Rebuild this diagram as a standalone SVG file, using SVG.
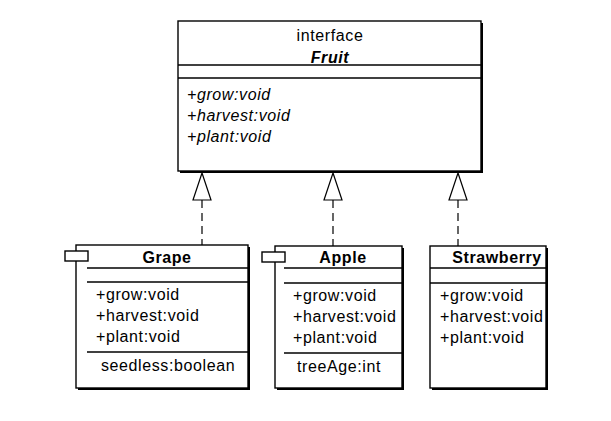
<svg xmlns="http://www.w3.org/2000/svg" width="611" height="421" viewBox="0 0 611 421">
<style>
  text { font-family: "Liberation Sans", Arial, sans-serif; font-size: 16px; letter-spacing: 0.6px; fill: #000; }
  .it { font-style: italic; }
  .b { font-weight: bold; }
  .mid { text-anchor: middle; }
  .box { fill: #fff; stroke: #000; stroke-width: 1.4; }
  .shadow { fill: #000; }
  .sep { stroke: #000; stroke-width: 1.3; }
  .tab { fill: #fff; stroke: #000; stroke-width: 1.4; }
  .dash { stroke: #000; stroke-width: 1.2; stroke-dasharray: 8 5; fill: none; }
  .tri { fill: #fff; stroke: #000; stroke-width: 1.2; }
</style>
<rect width="611" height="421" fill="#fff"/>

<g id="connectors">
  <line class="dash" x1="202" y1="200" x2="202" y2="245"/>
  <polygon class="tri" points="202,173 193,200 211,200"/>
  <line class="dash" x1="333" y1="200" x2="333" y2="246"/>
  <polygon class="tri" points="333,173 324,200 342,200"/>
  <line class="dash" x1="458" y1="200" x2="458" y2="246"/>
  <polygon class="tri" points="458,173 449,200 467,200"/>
</g>

<g id="Fruit">
  <rect class="shadow" x="180" y="23" width="303" height="150"/>
  <rect class="box" x="178" y="21" width="303" height="150"/>
  <text class="mid" x="330" y="41">interface</text>
  <text class="mid it b" x="330" y="62.5">Fruit</text>
  <line class="sep" x1="178" y1="65" x2="481" y2="65"/>
  <line class="sep" x1="178" y1="78" x2="481" y2="78"/>
  <text class="it" x="187" y="100">+grow:void</text>
  <text class="it" x="187" y="121">+harvest:void</text>
  <text class="it" x="187" y="142">+plant:void</text>
</g>

<g id="Grape">
  <rect class="shadow" x="78" y="247" width="172" height="143"/>
  <rect class="box" x="76" y="245" width="172" height="143"/>
  <rect class="tab" x="65" y="251" width="23" height="10"/>
  <text class="mid b" x="167" y="263">Grape</text>
  <line class="sep" x1="87" y1="268" x2="248" y2="268"/>
  <line class="sep" x1="87" y1="282" x2="248" y2="282"/>
  <text x="96" y="300">+grow:void</text>
  <text x="96" y="321">+harvest:void</text>
  <text x="96" y="342">+plant:void</text>
  <line class="sep" x1="87" y1="352" x2="248" y2="352"/>
  <text x="101" y="371">seedless:boolean</text>
</g>

<g id="Apple">
  <rect class="shadow" x="277" y="248" width="127" height="142"/>
  <rect class="box" x="275" y="246" width="127" height="142"/>
  <rect class="tab" x="262" y="252" width="23" height="10"/>
  <text class="mid b" x="343" y="263">Apple</text>
  <line class="sep" x1="284" y1="268" x2="402" y2="268"/>
  <line class="sep" x1="284" y1="283" x2="402" y2="283"/>
  <text x="293" y="301">+grow:void</text>
  <text x="293" y="322">+harvest:void</text>
  <text x="293" y="343">+plant:void</text>
  <line class="sep" x1="284" y1="353" x2="402" y2="353"/>
  <text x="297" y="372">treeAge:int</text>
</g>

<g id="Strawberry">
  <rect class="shadow" x="432" y="248" width="116" height="142"/>
  <rect class="box" x="430" y="246" width="116" height="142"/>
  <text class="mid b" x="497" y="263">Strawberry</text>
  <line class="sep" x1="430" y1="268" x2="546" y2="268"/>
  <line class="sep" x1="430" y1="283" x2="546" y2="283"/>
  <text x="440" y="301">+grow:void</text>
  <text x="440" y="322">+harvest:void</text>
  <text x="440" y="343">+plant:void</text>
</g>
</svg>
